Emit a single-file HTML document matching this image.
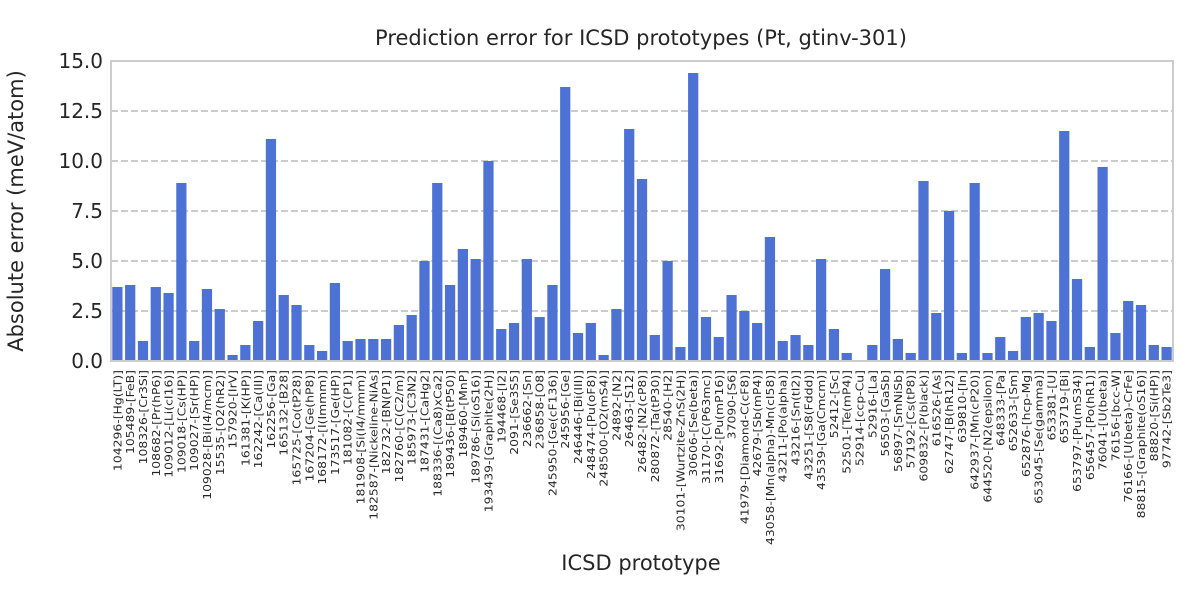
<!DOCTYPE html>
<html><head><meta charset="utf-8"><style>
body{margin:0;background:#fff;font-family:"Liberation Sans","DejaVu Sans",sans-serif;}
</style></head><body>
<svg id="chart" width="1200" height="600" xmlns="http://www.w3.org/2000/svg" font-family="DejaVu Sans, Liberation Sans, sans-serif">
<text x="641" y="45" text-anchor="middle" font-size="21" fill="#262626">Prediction error for ICSD prototypes (Pt, gtinv-301)</text>
<text transform="translate(23,211) rotate(-90)" text-anchor="middle" font-size="21" fill="#262626">Absolute error (meV/atom)</text>
<text x="641" y="570" text-anchor="middle" font-size="21" fill="#262626">ICSD prototype</text>
<g id="grid"></g><g id="bars"></g><g id="yt"></g><g id="xt"></g>
<rect x="111" y="61" width="1062" height="300" fill="none" stroke="#cccccc" stroke-width="2"/>
</svg>
<script>
const categories=["104296-[Hg(LT)]","105489-[FeB]","108326-[Cr3Si]","108682-[Pr(hP6)]","109012-[Li(cI16)]","109018-[Cs(HP)]","109027-[Sr(HP)]","109028-[Bi(I4/mcm)]","15535-[O2(hR2)]","157920-[IrV]","161381-[K(HP)]","162242-[Ca(III)]","162256-[Ga]","165132-[B28]","165725-[Co(tP28)]","167204-[Ge(hP8)]","168172-[I(Immm)]","173517-[Ge(HP)]","181082-[C(P1)]","181908-[Si(I4/mmm)]","182587-[Nickeline-NiAs]","182732-[BN(P1)]","182760-[C(C2/m)]","185973-[C3N2]","187431-[CaHg2]","188336-[(Ca8)xCa2]","189436-[B(tP50)]","189460-[MnP]","189786-[Si(oS16)]","193439-[Graphite(2H)]","194468-[I2]","2091-[Se3S5]","236662-[Sn]","236858-[O8]","245950-[Ge(cF136)]","245956-[Ge]","246446-[Bi(III)]","248474-[Pu(oF8)]","248500-[O2(mS4)]","24892-[N2]","26463-[S12]","26482-[N2(cP8)]","280872-[Ta(tP30)]","28540-[H2]","30101-[Wurtzite-ZnS(2H)]","30606-[Se(beta)]","31170-[C(P63mc)]","31692-[Pu(mP16)]","37090-[S6]","41979-[Diamond-C(cF8)]","42679-[Sb(mP4)]","43058-[Mn(alpha)-Mn(cI58)]","43211-[Po(alpha)]","43216-[Sn(tI2)]","43251-[S8(Fddd)]","43539-[Ga(Cmcm)]","52412-[Sc]","52501-[Te(mP4)]","52914-[ccp-Cu]","52916-[La]","56503-[GaSb]","56897-[SmNiSb]","57192-[Cs(tP8)]","609832-[P(black)]","616526-[As]","62747-[B(hR12)]","639810-[In]","642937-[Mn(cP20)]","644520-[N2(epsilon)]","648333-[Pa]","652633-[Sm]","652876-[hcp-Mg]","653045-[Se(gamma)]","653381-[U]","653719-[Bi]","653797-[Pu(mS34)]","656457-[Po(hR1)]","76041-[U(beta)]","76156-[bcc-W]","76166-[U(beta)-CrFe]","88815-[Graphite(oS16)]","88820-[Si(HP)]","97742-[Sb2Te3]"];
const errors=[3.7,3.8,1.0,3.7,3.4,8.9,1.0,3.6,2.6,0.3,0.8,2.0,11.1,3.3,2.8,0.8,0.5,3.9,1.0,1.1,1.1,1.1,1.8,2.3,5.0,8.9,3.8,5.6,5.1,10.0,1.6,1.9,5.1,2.2,3.8,13.7,1.4,1.9,0.3,2.6,11.6,9.1,1.3,5.0,0.7,14.4,2.2,1.2,3.3,2.5,1.9,6.2,1.0,1.3,0.8,5.1,1.6,0.4,0.0,0.8,4.6,1.1,0.4,9.0,2.4,7.5,0.4,8.9,0.4,1.2,0.5,2.2,2.4,2.0,11.5,4.1,0.7,9.7,1.4,3.0,2.8,0.8,0.7];
const yTicks=[0,2.5,5,7.5,10,12.5,15];
const yTickLabels=["0.0","2.5","5.0","7.5","10.0","12.5","15.0"];
const NS="http://www.w3.org/2000/svg";
const X0=111,W=1062,Y0=361,H=300,YMAX=15;
const step=W/categories.length;
const xC=i=>X0+step*(i+0.5);
const yS=v=>Y0-v/YMAX*H;
function mk(t,a,p){const e=document.createElementNS(NS,t);for(const k in a)e.setAttribute(k,a[k]);document.getElementById(p).appendChild(e);return e;}
yTicks.forEach((v,i)=>{
 if(v>0&&v<YMAX){const g=mk("line",{x1:X0,x2:X0+W,y1:yS(v),y2:yS(v),stroke:"#cccccc","stroke-width":2,"stroke-dasharray":"7,3"},"grid");
 
 }
 const t=mk("text",{x:X0-8,y:yS(v)+7,"text-anchor":"end","font-size":20,fill:"#262626"},"yt");
 t.textContent=yTickLabels[i];
 
 
});
categories.forEach((c,i)=>{
 const bw=step*0.8;
 const b=mk("rect",{x:xC(i)-bw/2,y:yS(errors[i]),width:bw,height:Y0-yS(errors[i]),fill:"#4e71d4"},"bars");
 
 
 const t=mk("text",{transform:`translate(${xC(i)+3.5},370) rotate(-90)`,"text-anchor":"end","font-size":10,fill:"#262626","textLength":0},"xt");
 t.removeAttribute("textLength");
 t.setAttribute("font-size","12.4");
 t.setAttribute("transform",`translate(${xC(i)+4},370) rotate(-90) scale(1,0.85)`);
 t.textContent=c;
 
 
});
</script>
</body></html>
